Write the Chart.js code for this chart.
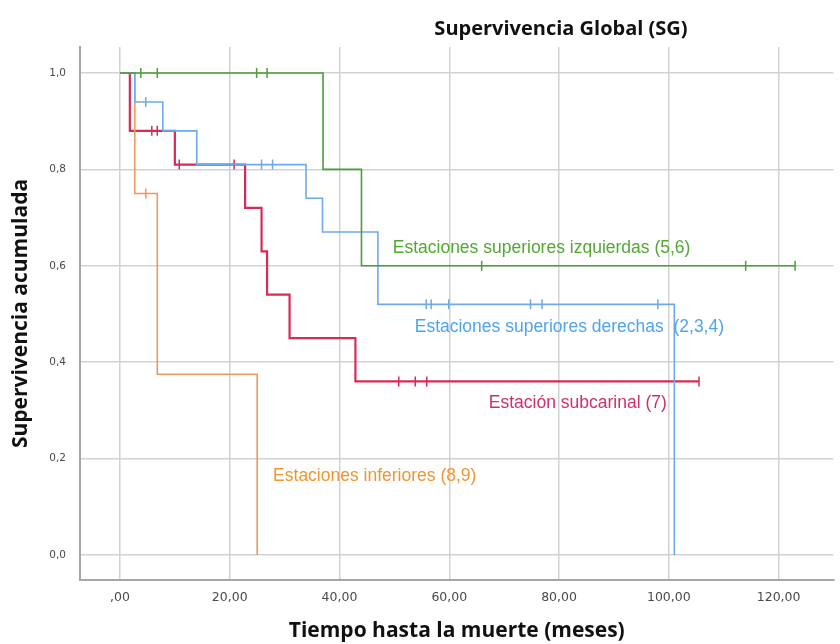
<!DOCTYPE html>
<html>
<head>
<meta charset="utf-8">
<script src="https://cdn.jsdelivr.net/npm/chart.js@4.4.1/dist/chart.umd.min.js"></script>
<style>
  body { margin: 0; background: #fff; }
</style>
</head>
<body>
<canvas id="chart-km" width="840" height="644"></canvas>
<script>
// ticks
const xTicks = [0, 20, 40, 60, 80, 100, 120];
const xTickLabels = [',00', '20,00', '40,00', '60,00', '80,00', '100,00', '120,00'];
const yTicks = [0, 0.2, 0.4, 0.6, 0.8, 1.0];
const yTickLabels = ['0,0', '0,2', '0,4', '0,6', '0,8', '1,0'];

// Estaciones superiores izquierdas (5,6)
const greenT = [0, 37, 44, 123];
const greenS = [1, 0.8, 0.6, 0.6];
const greenCensT = [3.8, 6.8, 24.9, 26.8, 65.9, 114, 123];
const greenCensS = [1, 1, 1, 1, 0.6, 0.6, 0.6];

// Estaciones superiores derechas (2,3,4)
const blueT = [0, 2.7, 7.8, 14, 33.9, 36.9, 47, 101];
const blueS = [1, 0.94, 0.88, 0.81, 0.74, 0.67, 0.52, 0];
const blueCensT = [4.7, 25.8, 27.8, 55.8, 56.7, 59.9, 74.8, 76.9, 98];
const blueCensS = [0.94, 0.81, 0.81, 0.52, 0.52, 0.52, 0.52, 0.52, 0.52];

// Estación subcarinal (7)
const redT = [0, 1.8, 10, 22.8, 25.8, 26.8, 30.9, 42.9, 105.5];
const redS = [1, 0.88, 0.81, 0.72, 0.63, 0.54, 0.45, 0.36, 0.36];
const redCensT = [5.8, 6.8, 10.8, 20.8, 50.8, 53.8, 55.9, 105.5];
const redCensS = [0.88, 0.88, 0.81, 0.81, 0.36, 0.36, 0.36, 0.36];

// Estaciones inferiores (8,9)
const orangeT = [0, 2.7, 6.8, 25];
const orangeS = [1, 0.75, 0.375, 0];
const orangeCensT = [4.7];
const orangeCensS = [0.75];

const groupNames = [
  'Estaciones superiores izquierdas (5,6)',
  'Estaciones superiores derechas  (2,3,4)',
  'Estación subcarinal (7)',
  'Estaciones inferiores (8,9)'
];

const pts = (t, s) => t.map((v, i) => ({ x: v, y: s[i] }));

const curva = (label, t, s, color, width) => ({
  label: label,
  data: pts(t, s),
  borderColor: color,
  borderWidth: width,
  stepped: 'before',
  pointRadius: 0,
  fill: false
});

const censura = (label, t, s, color) => ({
  label: label,
  data: pts(t, s),
  showLine: false,
  borderColor: color,
  borderWidth: 1.5,
  pointStyle: 'line',
  rotation: 90,
  pointRadius: 5
});

// text positions in data units
const etiquetas = [
  { text: groupNames[0], x: 49.7, y: 0.637, color: '#52a832' },
  { text: groupNames[1], x: 53.7, y: 0.473, color: '#4ea4ee' },
  { text: groupNames[2], x: 67.2, y: 0.315, color: '#cf2f6e' },
  { text: groupNames[3], x: 27.9, y: 0.164, color: '#f1952f' }
];

const textos = {
  id: 'textos',
  afterDatasetsDraw(chart) {
    const { ctx, scales: { x, y } } = chart;
    ctx.save();
    ctx.font = '17.5px "Liberation Sans"';
    ctx.textBaseline = 'middle';
    ctx.textAlign = 'left';
    etiquetas.forEach(e => {
      ctx.fillStyle = e.color;
      ctx.fillText(e.text, x.getPixelForValue(e.x), y.getPixelForValue(e.y));
    });
    ctx.font = 'bold 20px "Open Sans"';
    ctx.fillStyle = '#111';
    ctx.textAlign = 'center';
    ctx.fillText('Supervivencia Global (SG)', 561, 29);
    ctx.restore();
  }
};

const ctx = document.getElementById('chart-km');
new Chart(ctx, {
  type: 'line',
  data: {
    datasets: [
      curva(groupNames[0], greenT, greenS, '#4b9c3b', 1.6),
      censura('c0', greenCensT, greenCensS, '#4b9c3b'),
      curva(groupNames[1], blueT, blueS, '#6eaaea', 1.6),
      censura('c1', blueCensT, blueCensS, '#6eaaea'),
      curva(groupNames[3], orangeT, orangeS, '#f2995a', 1.6),
      censura('c3', orangeCensT, orangeCensS, '#f2995a'),
      curva(groupNames[2], redT, redS, '#d62b57', 2.2),
      censura('c2', redCensT, redCensS, '#d62b57')
    ]
  },
  plugins: [textos],
  options: {
    responsive: false,
    animation: false,
    layout: { padding: { top: 47, left: 0, right: 0, bottom: 0 } },
    plugins: { legend: { display: false }, tooltip: { enabled: false } },
    scales: {
      x: {
        type: 'linear',
        min: -7.28,
        max: 130,
        afterBuildTicks: s => { s.ticks = xTicks.map(v => ({ value: v })); },
        afterFit: s => { s.height = 64; },
        ticks: {
          callback: v => xTickLabels[xTicks.indexOf(v)],
          font: { family: 'DejaVu Sans', size: 12.5 },
          color: '#4a4a4a',
          padding: 10,
          maxRotation: 0
        },
        grid: { color: '#d2d2d2', lineWidth: 1.5, drawTicks: false },
        border: { color: '#a6a6a6', width: 2 },
        title: {
          display: true,
          text: 'Tiempo hasta la muerte (meses)',
          font: { family: 'Open Sans', size: 21, weight: 'bold' },
          color: '#111',
          padding: { top: 0, bottom: 0 }
        }
      },
      y: {
        min: -0.052,
        max: 1.054,
        afterBuildTicks: s => { s.ticks = yTicks.map(v => ({ value: v })); },
        afterFit: s => { s.width = 80; },
        ticks: {
          callback: v => yTickLabels[yTicks.indexOf(v)],
          font: { family: 'DejaVu Sans', size: 10.5 },
          color: '#4a4a4a',
          padding: 14
        },
        grid: { color: '#d2d2d2', lineWidth: 1.5, drawTicks: false },
        border: { color: '#a6a6a6', width: 2 },
        title: {
          display: true,
          text: 'Supervivencia acumulada',
          font: { family: 'Open Sans', size: 21, weight: 'bold' },
          color: '#111',
          padding: { top: 8, bottom: 0 }
        }
      }
    }
  }
});
</script>
</body>
</html>
